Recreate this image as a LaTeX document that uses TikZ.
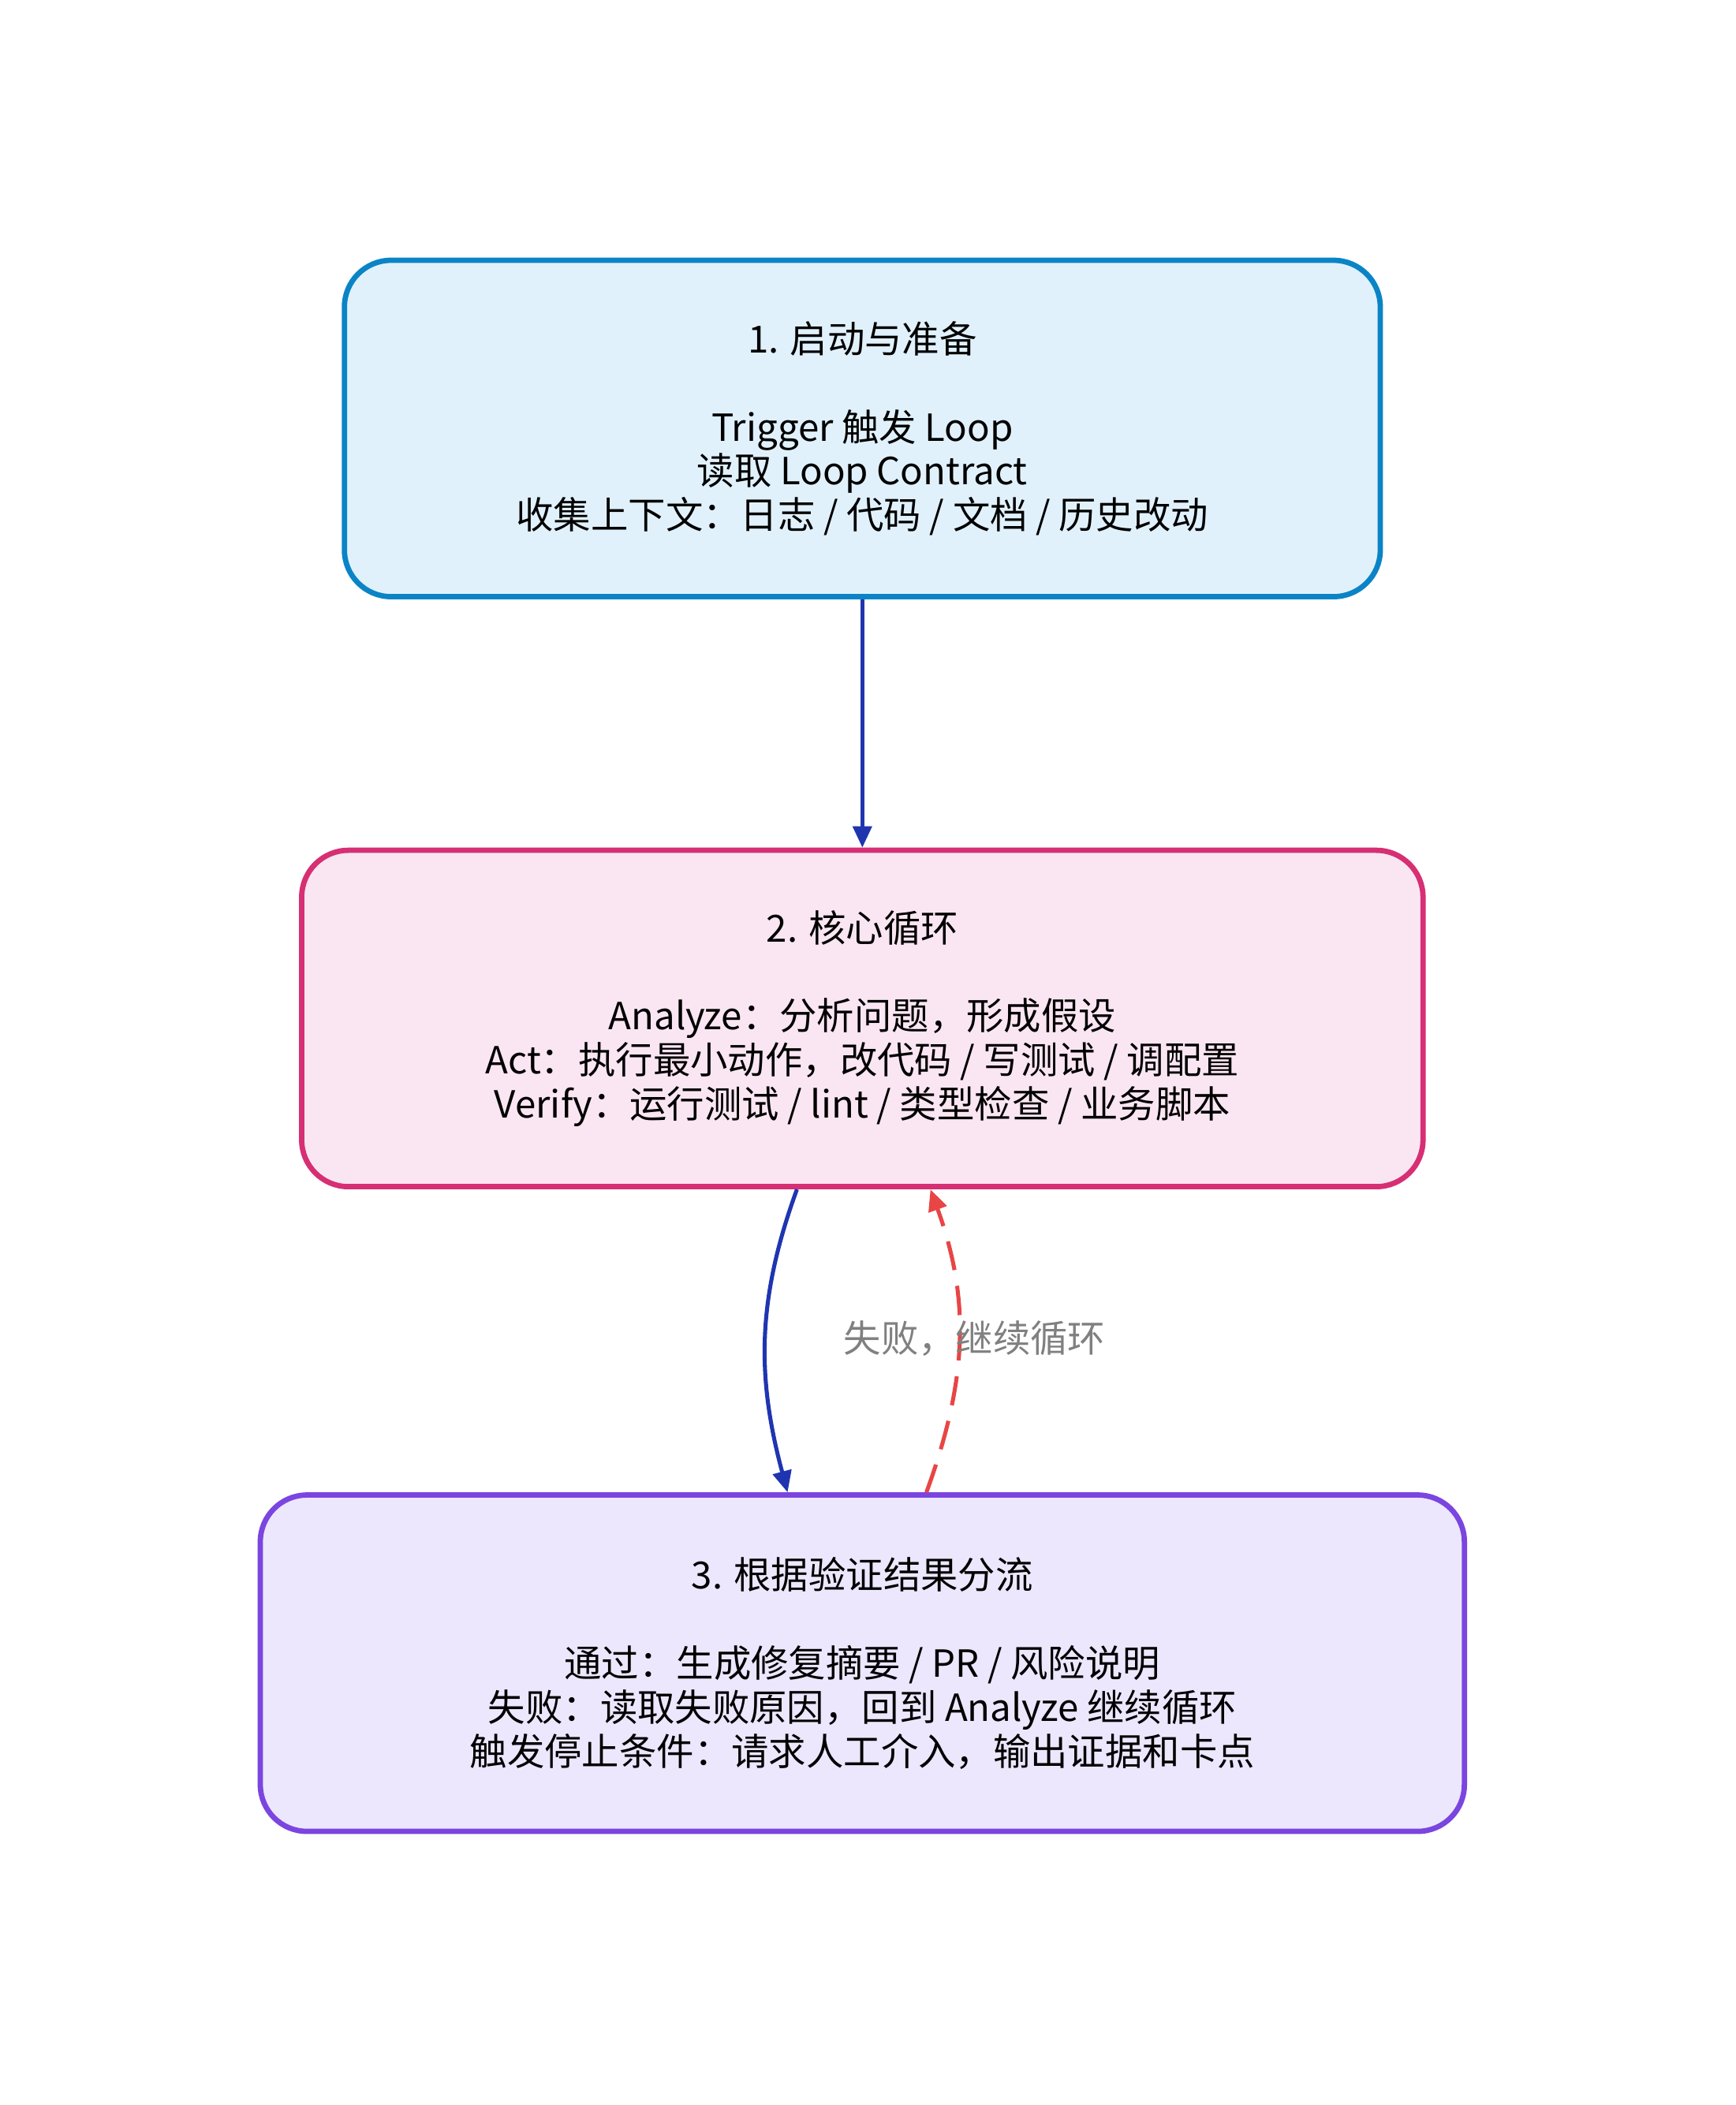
\documentclass[tikz,border=0pt]{standalone}
\usepackage{fontspec}
\setmainfont{Noto Sans CJK SC}
\usepackage{tikz}
\usetikzlibrary{arrows.meta}
\definecolor{blueline}{HTML}{0A84C6}
\definecolor{bluefill}{HTML}{E1F1FC}
\definecolor{pinkline}{HTML}{D62F74}
\definecolor{pinkfill}{HTML}{FAE6F2}
\definecolor{purpleline}{HTML}{7B45E0}
\definecolor{purplefill}{HTML}{ECE7FC}
\definecolor{flowblue}{HTML}{1F35B0}
\definecolor{flowred}{HTML}{E84545}
\tikzset{stage/.style={draw, line width=4pt, rounded corners=35pt, align=center,
    font=\fontsize{28}{33}\selectfont, inner sep=0pt}}
\begin{document}
\begin{tikzpicture}[x=1pt, y=-1pt, >={Triangle[length=16pt,width=14pt]}]
    \useasboundingbox (0,0) rectangle (1300,1577);
    
    \node [stage, blueline, fill=bluefill, text=black, minimum width=776pt, minimum height=252pt]
        (start) at (646,321) {1. 启动与准备\\[33pt]Trigger 触发 Loop\\读取 Loop Contract\\收集上下文：日志 / 代码 / 文档 / 历史改动};
    \node [stage, pinkline, fill=pinkfill, text=black, minimum width=840pt, minimum height=252pt]
        (core) at (646,763) {2. 核心循环\\[33pt]Analyze：分析问题，形成假设\\Act：执行最小动作，改代码 / 写测试 / 调配置\\Verify：运行测试 / lint / 类型检查 / 业务脚本};
    \node [stage, purpleline, fill=purplefill, text=black, minimum width=902pt, minimum height=252pt]
        (split) at (646,1246) {3. 根据验证结果分流\\[33pt]通过：生成修复摘要 / PR / 风险说明\\失败：读取失败原因，回到 Analyze 继续循环\\触发停止条件：请求人工介入，输出证据和卡点};
    
    \draw [->, flowblue, line width=3pt] (start.south) -- (core.north);
    \draw [->, flowblue, line width=3pt] ([xshift=-49pt]core.south) to [out=-110,in=105] ([xshift=-56pt]split.north);
    \draw [->, flowred, line width=3pt, dash pattern=on 22pt off 12pt] ([xshift=48pt]split.north) to [out=70,in=-70] ([xshift=51pt]core.south);
    
    \node [text=gray, font=\fontsize{28}{33}\selectfont] (fail) at (730,1003) {失败，继续循环};
    
\end{tikzpicture}
\end{document}
